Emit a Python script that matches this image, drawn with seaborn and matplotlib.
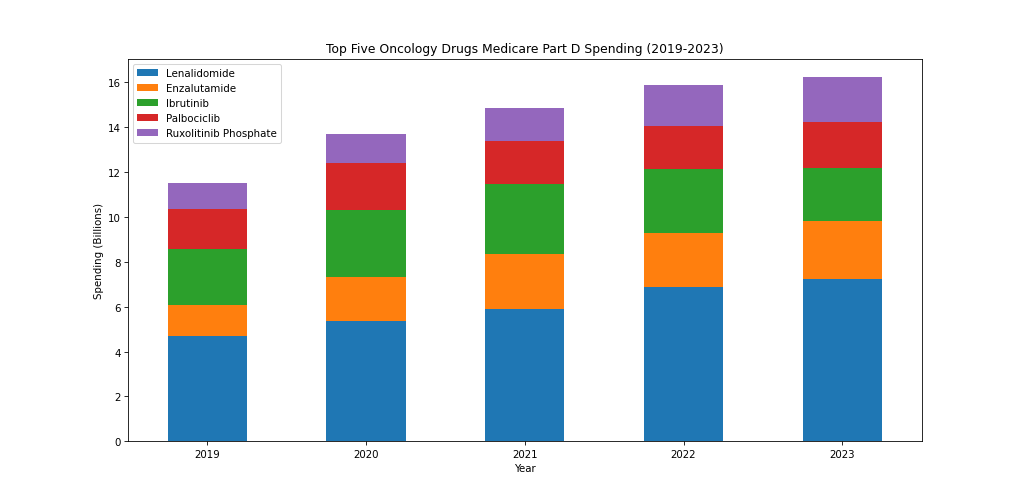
import matplotlib
matplotlib.use('Agg')
import matplotlib.pyplot as plt
import seaborn as sns
import numpy as np

years = ['2019', '2020', '2021', '2022', '2023']
drugs = ['Lenalidomide', 'Enzalutamide', 'Ibrutinib', 'Palbociclib', 'Ruxolitinib Phosphate']

lenalidomide = [4.68, 5.35, 5.88, 6.86, 7.22]
enzalutamide = [1.41, 1.97, 2.44, 2.42, 2.61]
ibrutinib = [2.47, 2.97, 3.15, 2.84, 2.36]
palbociclib = [1.79, 2.11, 1.90, 1.94, 2.04]
ruxolitinib = [1.15, 1.29, 1.48, 1.82, 2.00]

series = [lenalidomide, enzalutamide, ibrutinib, palbociclib, ruxolitinib]
colors = ['#1f77b4', '#ff7f0e', '#2ca02c', '#d62728', '#9467bd']

fig, ax = plt.subplots(figsize=(1024 / 74, 497 / 74), dpi=74)

bottom = np.zeros(len(years))
for name, vals, c in zip(drugs, series, colors):
    sns.barplot(x=years, y=vals, order=years, bottom=bottom, color=c,
                saturation=1, width=0.5, linewidth=0, label=name, ax=ax)
    bottom = bottom + np.array(vals)

ax.set_ylim(0, bottom.max() * 1.05)
ax.set_title('Top Five Oncology Drugs Medicare Part D Spending (2019-2023)')
ax.set_xlabel('Year')
ax.set_ylabel('Spending (Billions)')
ax.legend(loc='upper left')

plt.savefig('out.png')
plt.close()
